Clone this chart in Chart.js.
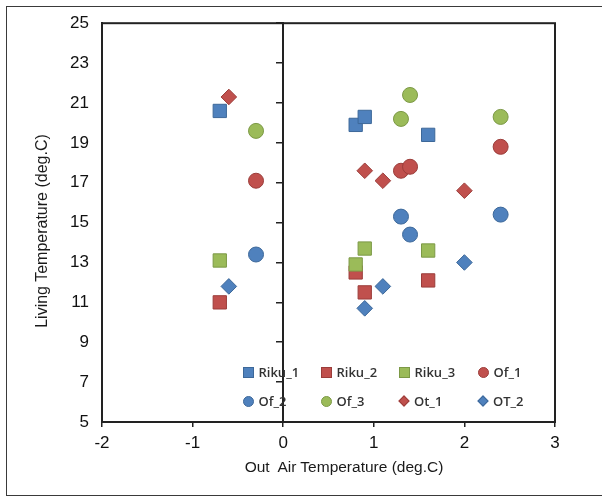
<!DOCTYPE html>
<html>
<head>
<meta charset="utf-8">
<script src="https://cdn.jsdelivr.net/npm/chart.js@4.4.1/dist/chart.umd.min.js"></script>
<style>
  html, body { margin: 0; padding: 0; background: #fff; overflow: hidden; }
  #wrap { position: relative; width: 602px; height: 498px; }
  #frame { position: absolute; left: 6px; top: 6px; width: 610px; height: 490px; border: 1.5px solid #3a3a3a; box-sizing: border-box; pointer-events: none; }
  .title { position: absolute; font-family: "Liberation Sans", Arial, sans-serif; color: #1a1a1a; white-space: pre; }
  #xTitle { left: 344px; top: 467px; transform: translate(-50%, -50%); font-size: 15.5px; }
  #yTitle { left: 42px; top: 231px; transform: translate(-50%, -50%) rotate(-90deg); font-size: 16px; }
  .item { position: absolute; display: flex; align-items: center; transform: translateY(-50%);
          font-family: "Open Sans", sans-serif; font-weight: 600; font-size: 13px; color: #333; }
  .sym { width: 11px; height: 11px; box-sizing: border-box; border: 1px solid; margin-right: 5px; }
  .sym.circle { border-radius: 50%; }
  .sym.diamond { width: 8px; height: 8px; margin: 0 6px 0 1.5px; transform: rotate(45deg); }
</style>
</head>
<body>
<div id="wrap">
  <canvas id="chart" width="602" height="498"></canvas>
  <div id="frame"></div>
  <div class="title" id="yTitle">Living Temperature (deg.C)</div>
  <div class="title" id="xTitle">Out  Air Temperature (deg.C)</div>
  <div id="legend"></div>
</div>
<script>
// series names, in legend order
const seriesNames = ['Riku_1', 'Riku_2', 'Riku_3', 'Of_1', 'Of_2', 'Of_3', 'Ot_1', 'OT_2'];

// out air temperature per site group
const xRiku = [-0.7, 0.8, 0.9, 1.6];
const xOf = [-0.3, 1.3, 1.4, 2.4];
const xOt = [-0.6, 0.9, 1.1, 2.0];

// living temperature
const riku1 = [20.6, 19.9, 20.3, 19.4];
const riku2 = [11.0, 12.5, 11.5, 12.1];
const riku3 = [13.1, 12.9, 13.7, 13.6];
const of1 = [17.1, 17.6, 17.8, 18.8];
const of2 = [13.4, 15.3, 14.4, 15.4];
const of3 = [19.6, 20.2, 21.4, 20.3];
const ot1 = [21.3, 17.6, 17.1, 16.6];
const ot2 = [11.8, 10.7, 11.8, 13.0];

const xTickValues = [-2, -1, 0, 1, 2, 3];
const yTickValues = [5, 7, 9, 11, 13, 15, 17, 19, 21, 23, 25];

const BLUE = { fill: '#4F81BD', line: '#3D6899' };
const RED = { fill: '#C0504D', line: '#9B3D3A' };
const GREEN = { fill: '#9BBB59', line: '#7C9946' };

const seriesX = [xRiku, xRiku, xRiku, xOf, xOf, xOf, xOt, xOt];
const seriesY = [riku1, riku2, riku3, of1, of2, of3, ot1, ot2];
const seriesColor = [BLUE, RED, GREEN, RED, BLUE, GREEN, RED, BLUE];
const seriesShape = ['rect', 'rect', 'rect', 'circle', 'circle', 'circle', 'rectRot', 'rectRot'];
const shapeRadius = { rect: 9.4, circle: 7.5, rectRot: 7.8 };

const datasets = seriesNames.map((name, i) => ({
  label: name,
  data: seriesX[i].map((x, j) => ({ x: x, y: seriesY[i][j] })),
  pointStyle: seriesShape[i],
  pointRadius: shapeRadius[seriesShape[i]],
  pointHoverRadius: shapeRadius[seriesShape[i]],
  backgroundColor: seriesColor[i].fill,
  borderColor: seriesColor[i].line,
  borderWidth: 1,
  xAxisID: 'x',
  yAxisID: 'y',
  order: seriesNames.length - i   // later series drawn on top
}));

// legend inside the plot, two rows of four
const legendCols = [248, 326, 404, 483];
const legendRows = [372, 401];
const legendEl = document.getElementById('legend');
seriesNames.forEach((name, i) => {
  const shape = seriesShape[i] === 'rect' ? '' : (seriesShape[i] === 'circle' ? ' circle' : ' diamond');
  const item = document.createElement('div');
  item.className = 'item';
  item.style.left = (legendCols[i % 4] - 5.5) + 'px';
  item.style.top = legendRows[Math.floor(i / 4)] + 'px';
  item.innerHTML = '<span class="sym' + shape + '" style="background:' + seriesColor[i].fill
    + ';border-color:' + seriesColor[i].line + '"></span><span>' + name + '</span>';
  legendEl.appendChild(item);
});

const tickFont = { family: '"Liberation Sans", Arial, sans-serif', size: 17 };

const plotFrame = {
  id: 'plotFrame',
  beforeDatasetsDraw(chart) {
    const a = chart.chartArea;
    const c = chart.ctx;
    c.save();
    c.strokeStyle = '#222';
    c.lineWidth = 2;
    c.strokeRect(a.left, a.top, a.right - a.left, a.bottom - a.top);
    c.restore();
  }
};

new Chart(document.getElementById('chart'), {
  type: 'scatter',
  data: { datasets },
  options: {
    responsive: false,
    animation: false,
    layout: { padding: { top: 22, right: 47, left: 0, bottom: 0 } },
    plugins: { legend: { display: false }, tooltip: { enabled: false } },
    scales: {
      x: {
        type: 'linear',
        min: xTickValues[0],
        max: xTickValues[xTickValues.length - 1],
        ticks: { stepSize: 1, font: tickFont, color: '#111', padding: 6, maxRotation: 0 },
        grid: { drawOnChartArea: false, drawTicks: true, tickLength: 5, color: '#222', lineWidth: 1.5 },
        border: { color: '#222', width: 2 },
        afterFit: s => { s.height = 76; }
      },
      y: {
        type: 'linear',
        position: 'left',
        min: yTickValues[0],
        max: yTickValues[yTickValues.length - 1],
        ticks: { stepSize: 2, font: tickFont, color: '#111', padding: 13 },
        grid: { display: false, drawTicks: false },
        border: { color: '#222', width: 2 },
        afterFit: s => { s.width = 102; }
      },
      y0: {
        type: 'linear',
        axis: 'y',
        position: { x: 0 },
        min: yTickValues[0],
        max: yTickValues[yTickValues.length - 1],
        ticks: { stepSize: 2, display: false },
        grid: { drawOnChartArea: false, drawTicks: true, tickLength: 6, color: '#222', lineWidth: 1.5 },
        border: { color: '#222', width: 2 }
      }
    }
  },
  plugins: [plotFrame]
});
</script>
</body>
</html>
